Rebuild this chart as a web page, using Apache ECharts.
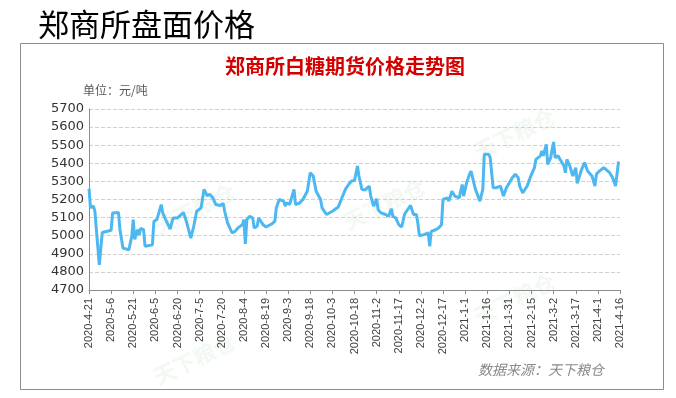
<!DOCTYPE html>
<html>
<head>
<meta charset="utf-8">
<script src="https://cdn.jsdelivr.net/npm/echarts@6/dist/echarts.min.js"></script>
<style>
html, body { margin: 0; padding: 0; background: #fff; }
#main { width: 676px; height: 398px; }
</style>
</head>
<body>
<div id="main"></div>
<script>
// x = days since 2020-4-21, y = price (元/吨)
var tickLabels = ["2020-4-21", "2020-5-6", "2020-5-21", "2020-6-5", "2020-6-20", "2020-7-5",
    "2020-7-20", "2020-8-4", "2020-8-19", "2020-9-3", "2020-9-18", "2020-10-3", "2020-10-18",
    "2020-11-2", "2020-11-17", "2020-12-2", "2020-12-17", "2021-1-1", "2021-1-16", "2021-1-31",
    "2021-2-15", "2021-3-2", "2021-3-17", "2021-4-1", "2021-4-16"];

var days = [0, 1, 3, 4, 5, 7, 9, 15, 16, 20, 21, 23, 27, 29, 30, 31, 33, 34, 35, 37, 38, 43, 44, 46,
    49, 50, 52, 55, 57, 60, 64, 66, 69, 71, 73, 76, 78, 80, 82, 84, 86, 89, 91, 92, 94, 97, 99,
    101, 104, 105, 106, 107, 109, 111, 112, 114, 115, 118, 120, 124, 126, 127, 129, 132, 133,
    134, 136, 139, 140, 143, 145, 148, 150, 152, 154, 155, 157, 158, 161, 165, 169, 171, 174,
    176, 178, 180, 182, 183, 185, 187, 188, 190, 191, 193, 195, 196, 198, 201, 203, 205, 206,
    208, 210, 212, 214, 215, 218, 220, 222, 223, 224, 227, 230, 231, 232, 235, 237, 239, 240,
    243, 244, 246, 248, 251, 253, 254, 256, 258, 259, 262, 265, 267, 268, 271, 272, 274, 276,
    279, 281, 283, 285, 287, 289, 291, 292, 294, 297, 300, 302, 303, 306, 307, 308, 310, 311,
    313, 314, 315, 316, 318, 320, 322, 323, 324, 326, 328, 330, 331, 334, 336, 338, 341, 343,
    344, 346, 349, 350, 353, 355, 357, 359];

var prices = [5260, 5155, 5163, 5135, 5033, 4839, 5018, 5030, 5126, 5128, 5033, 4932, 4922, 4996,
    5089, 4980, 5033, 5005, 5040, 5033, 4941, 4950, 5080, 5089, 5172, 5126, 5089, 5037, 5098,
    5098, 5128, 5080, 4987, 5052, 5135, 5154, 5256, 5222, 5228, 5209, 5172, 5167, 5178, 5135,
    5070, 5015, 5024, 5043, 5061, 5089, 4954, 5089, 5107, 5098, 5043, 5052, 5098, 5061, 5048,
    5065, 5080, 5154, 5200, 5191, 5163, 5182, 5172, 5256, 5172, 5182, 5200, 5246, 5348, 5330,
    5246, 5246, 5200, 5154, 5117, 5135, 5159, 5200, 5259, 5283, 5302, 5305, 5385, 5330, 5256,
    5252, 5256, 5274, 5219, 5163, 5204, 5144, 5126, 5117, 5107, 5148, 5107, 5098, 5061, 5048,
    5120, 5117, 5167, 5117, 5117, 5067, 5000, 5006, 5015, 4941, 5024, 5033, 5043, 5061, 5200,
    5209, 5191, 5246, 5219, 5209, 5283, 5219, 5293, 5339, 5357, 5256, 5191, 5256, 5450, 5450,
    5431, 5265, 5265, 5274, 5219, 5265, 5293, 5320, 5339, 5320, 5274, 5237, 5274, 5339, 5376,
    5422, 5441, 5468, 5441, 5505, 5394, 5431, 5478, 5518, 5431, 5441, 5413, 5385, 5348, 5422,
    5385, 5330, 5376, 5289, 5367, 5404, 5357, 5330, 5274, 5339, 5357, 5376, 5367, 5348, 5320,
    5274, 5410];

var points = days.map(function (d, i) { return [d, prices[i]]; });

var chart = echarts.init(document.getElementById("main"));

// faint watermarks
var marks = [[150, 180], [340, 175], [470, 105], [150, 330], [470, 270]];
var watermark = marks.map(function (p) {
    return {
        type: "text", left: p[0], top: p[1], rotation: 0.45, silent: true, z: -1,
        style: { text: "天下粮仓", fill: "rgba(150,200,150,0.12)", fontSize: 22, fontWeight: "bold",
            fontFamily: "Noto Sans CJK SC" }
    };
});

chart.setOption({
    animation: false,
    title: {
        text: "郑商所白糖期货价格走势图",
        left: 340, top: 51, textAlign: "center",
        textStyle: { color: "#d40000", fontSize: 20, fontWeight: "bold", fontFamily: "Noto Sans CJK SC" }
    },
    graphic: [
        { type: "text", left: 38, top: 9,
          style: { text: "郑商所盘面价格", fill: "#000", fontSize: 31, fontFamily: "Noto Sans CJK SC" } },
        { type: "rect", shape: { x: 20.5, y: 43.5, width: 643, height: 346 }, z: -2,
          style: { fill: "none", stroke: "#8c8c8c", lineWidth: 1 } },
        { type: "text", left: 83, top: 84,
          style: { text: "单位：元/吨", fill: "#595959", fontSize: 12, fontFamily: "Noto Sans CJK SC" } },
        { type: "text", left: 478, top: 363,
          style: { text: "数据来源：天下粮仓", fill: "#8a8a8a", fontSize: 14, fontStyle: "italic",
              fontFamily: "Noto Sans CJK SC" } }
    ].concat(watermark),
    grid: { left: 89, right: 56, top: 109, bottom: 108 },
    xAxis: {
        type: "value", min: 0, max: 360, interval: 15,
        axisLine: { lineStyle: { color: "#8c8c8c" } },
        axisTick: { show: true, length: 4, lineStyle: { color: "#8c8c8c" } },
        splitLine: { show: false },
        axisLabel: {
            rotate: 90, margin: 8, color: "#404040", fontSize: 11, fontFamily: "Liberation Sans",
            formatter: function (v) { return tickLabels[Math.round(v / 15)]; }
        }
    },
    yAxis: {
        type: "value", min: 4700, max: 5700, interval: 100,
        axisLine: { show: true, lineStyle: { color: "#8c8c8c" } },
        axisTick: { show: false },
        splitLine: { lineStyle: { color: "#d0d0d0", type: "dashed" } },
        axisLabel: { color: "#333", fontSize: 13, margin: 5, fontFamily: "DejaVu Sans",
            formatter: function (v) { return String(v); } }
    },
    series: [{
        type: "line",
        data: points,
        symbol: "none",
        lineStyle: { color: "#4db8f0", width: 3 }
    }]
});
</script>
</body>
</html>
